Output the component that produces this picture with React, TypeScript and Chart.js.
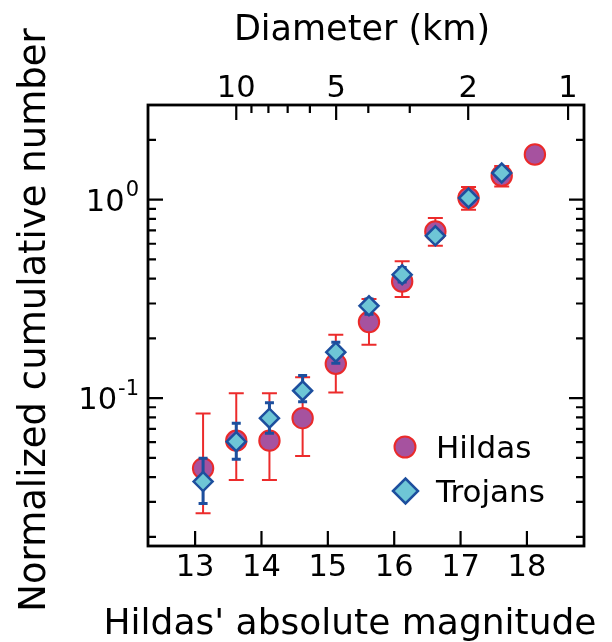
import React, { useEffect, useRef } from 'react';
import { Chart, registerables } from 'chart.js';

Chart.register(...registerables);

// ---- data ----
const hildasMag = [13.12, 13.62, 14.12, 14.62, 15.12, 15.62, 16.12, 16.62, 17.12, 17.62, 18.12];
const hildasN = [0.0443, 0.0611, 0.0611, 0.0793, 0.149, 0.242, 0.387, 0.692, 1.02, 1.32, 1.69];
const hildasLow = [0.0263, 0.0387, 0.0387, 0.0512, 0.1067, 0.186, 0.323, 0.586, 0.89, 1.167, 1.6];
const hildasHigh = [0.0838, 0.106, 0.106, 0.1276, 0.2086, 0.316, 0.489, 0.808, 1.159, 1.48, 1.8];

const trojansMag = [13.12, 13.62, 14.12, 14.62, 15.12, 15.62, 16.12, 16.62, 17.12, 17.62];
const trojansN = [0.038, 0.0604, 0.0793, 0.109, 0.1706, 0.292, 0.419, 0.658, 1.02, 1.363];
const trojansLow = [0.0295, 0.0492, 0.0666, 0.096, 0.15, 0.265, 0.385, 0.62, 0.97, 1.3];
const trojansHigh = [0.0498, 0.0748, 0.0948, 0.13, 0.1915, 0.316, 0.455, 0.7, 1.07, 1.43];

const xTicks = [13, 14, 15, 16, 17, 18];
const yMajor = [0.1, 1];
const yMajorExp = ['-1', '0'];
const yMinor = [0.02, 0.03, 0.04, 0.05, 0.06, 0.07, 0.08, 0.09, 0.2, 0.3, 0.4, 0.5, 0.6, 0.7, 0.8, 0.9, 2, 3];
const diameterMajor = [10, 5, 2, 1];
const diameterMinor = [9, 8, 7, 6, 4, 3];
const H_AT_1KM = 18.62; // magnitude corresponding to D = 1 km

const FONT = '"DejaVu Sans", sans-serif';
const TICK_FONT = 30.5;

const magOfDiameter = (d: number) => H_AT_1KM - 5 * Math.log10(d);

const decorPlugin = {
  id: 'decor',
  beforeDatasetDraw(chart: any, args: any) {
    const ds = chart.data.datasets[args.index];
    const xs = chart.scales.x;
    const ys = chart.scales.y;
    const ctx = chart.ctx;
    ctx.save();
    ctx.strokeStyle = ds.errColor;
    ctx.lineWidth = ds.errWidth;
    ctx.lineCap = 'butt';
    ds.data.forEach((p: any, i: number) => {
      const px = xs.getPixelForValue(p.x);
      const y1 = ys.getPixelForValue(ds.errLow[i]);
      const y2 = ys.getPixelForValue(ds.errHigh[i]);
      const c = ds.capHalf;
      ctx.beginPath();
      ctx.moveTo(px, y1);
      ctx.lineTo(px, y2);
      ctx.moveTo(px - c, y1);
      ctx.lineTo(px + c, y1);
      ctx.moveTo(px - c, y2);
      ctx.lineTo(px + c, y2);
      ctx.stroke();
    });
    ctx.restore();
  },
  afterDraw(chart: any) {
    const ctx = chart.ctx;
    const xs = chart.scales.x;
    const ys = chart.scales.y;
    const { left, right, top, bottom } = chart.chartArea;
    const MAJ = 15;
    const MIN = 8;
    ctx.save();
    ctx.strokeStyle = '#000';
    ctx.fillStyle = '#000';
    ctx.lineWidth = 2.2;

    // bottom ticks + labels
    ctx.font = `${TICK_FONT}px ${FONT}`;
    ctx.textAlign = 'center';
    ctx.textBaseline = 'alphabetic';
    xTicks.forEach((v) => {
      const px = xs.getPixelForValue(v);
      ctx.beginPath();
      ctx.moveTo(px, bottom);
      ctx.lineTo(px, bottom - MAJ);
      ctx.stroke();
      ctx.fillText(String(v), px, 576);
    });

    // top diameter ticks
    diameterMajor.forEach((d) => {
      const px = xs.getPixelForValue(magOfDiameter(d));
      ctx.beginPath();
      ctx.moveTo(px, top);
      ctx.lineTo(px, top + MAJ);
      ctx.stroke();
      ctx.fillText(String(d), px, 97);
    });
    diameterMinor.forEach((d) => {
      const px = xs.getPixelForValue(magOfDiameter(d));
      ctx.beginPath();
      ctx.moveTo(px, top);
      ctx.lineTo(px, top + MIN);
      ctx.stroke();
    });

    // y ticks both sides
    const yr = [ys.min, ys.max];
    yMinor.forEach((v) => {
      if (v <= yr[0] || v >= yr[1]) return;
      const py = ys.getPixelForValue(v);
      ctx.beginPath();
      ctx.moveTo(left, py);
      ctx.lineTo(left + MIN, py);
      ctx.moveTo(right, py);
      ctx.lineTo(right - MIN, py);
      ctx.stroke();
    });
    yMajor.forEach((v, i) => {
      const py = ys.getPixelForValue(v);
      ctx.beginPath();
      ctx.moveTo(left, py);
      ctx.lineTo(left + MAJ, py);
      ctx.moveTo(right, py);
      ctx.lineTo(right - MAJ, py);
      ctx.stroke();
      // label 10^exp
      ctx.textAlign = 'right';
      ctx.font = `21px ${FONT}`;
      const expW = ctx.measureText(yMajorExp[i]).width;
      ctx.fillText(yMajorExp[i], 139, py - 3.5);
      ctx.font = `${TICK_FONT}px ${FONT}`;
      ctx.fillText('10', 139 - expW - 1, py + 11);
    });

    // frame
    ctx.lineWidth = 2.8;
    ctx.strokeRect(left, top, right - left, bottom - top);

    // titles
    ctx.textAlign = 'center';
    ctx.font = `36px ${FONT}`;
    ctx.fillText("Hildas' absolute magnitude", 350, 634);
    ctx.font = `35px ${FONT}`;
    ctx.fillText('Diameter (km)', 362, 40);
    ctx.save();
    ctx.translate(45, 320);
    ctx.rotate(-Math.PI / 2);
    ctx.font = `37px ${FONT}`;
    ctx.fillText('Normalized cumulative number', 0, 0);
    ctx.restore();

    // legend
    ctx.font = `31px ${FONT}`;
    ctx.textAlign = 'left';
    const dsH = chart.data.datasets[0];
    const dsT = chart.data.datasets[1];
    ctx.beginPath();
    ctx.arc(405, 447, 10.5, 0, Math.PI * 2);
    ctx.fillStyle = dsH.backgroundColor;
    ctx.fill();
    ctx.lineWidth = 2;
    ctx.strokeStyle = dsH.borderColor;
    ctx.stroke();
    ctx.fillStyle = '#000';
    ctx.fillText('Hildas', 436, 457.5);

    const r = 12.5;
    ctx.beginPath();
    ctx.moveTo(405.5 - r, 491);
    ctx.lineTo(405.5, 491 - r);
    ctx.lineTo(405.5 + r, 491);
    ctx.lineTo(405.5, 491 + r);
    ctx.closePath();
    ctx.fillStyle = dsT.backgroundColor;
    ctx.fill();
    ctx.lineWidth = 2.5;
    ctx.strokeStyle = dsT.borderColor;
    ctx.stroke();
    ctx.fillStyle = '#000';
    ctx.fillText('Trojans', 436, 502);

    ctx.restore();
  },
};

export default function App() {
  const ref = useRef<HTMLCanvasElement | null>(null);

  useEffect(() => {
    document.body.style.margin = '0';
    const canvas = ref.current;
    if (!canvas) return;
    const chart = new Chart(canvas, {
      type: 'scatter',
      data: {
        datasets: [
          {
            label: 'Hildas',
            data: hildasMag.map((x, i) => ({ x, y: hildasN[i] })),
            pointStyle: 'circle',
            pointRadius: 10.2,
            pointHoverRadius: 10.2,
            borderWidth: 2,
            backgroundColor: '#a6529f',
            borderColor: '#ea2a2a',
            order: 1,
            errLow: hildasLow,
            errHigh: hildasHigh,
            errColor: '#ec2b2b',
            errWidth: 2,
            capHalf: 7.5,
          } as any,
          {
            label: 'Trojans',
            data: trojansMag.map((x, i) => ({ x, y: trojansN[i] })),
            pointStyle: 'rectRot',
            pointRadius: 9.5,
            pointHoverRadius: 9.5,
            borderWidth: 2.5,
            backgroundColor: '#6ec6d6',
            borderColor: '#1d4f9e',
            order: 0,
            errLow: trojansLow,
            errHigh: trojansHigh,
            errColor: '#1d4f9e',
            errWidth: 3,
            capHalf: 4.5,
          } as any,
        ],
      },
      options: {
        responsive: false,
        devicePixelRatio: 1,
        animation: false,
        layout: { padding: { left: 148, right: 28, top: 105, bottom: 96 } },
        scales: {
          x: { type: 'linear', display: false, min: 12.29, max: 18.86 },
          y: { type: 'logarithmic', display: false, min: 0.018, max: 3.0 },
        },
        plugins: {
          legend: { display: false },
          tooltip: { enabled: false },
        },
        events: [],
      },
      plugins: [decorPlugin],
    });
    return () => chart.destroy();
  }, []);

  return (
    <div style={{ width: 612, height: 642, background: '#fff' }}>
      <canvas ref={ref} width={612} height={642} style={{ display: 'block' }} />
    </div>
  );
}
